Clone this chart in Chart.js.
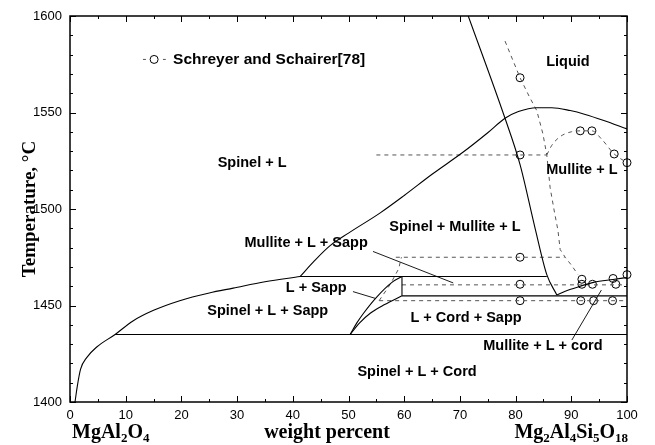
<!DOCTYPE html>
<html>
<head>
<meta charset="utf-8">
<script src="https://cdn.jsdelivr.net/npm/chart.js@4.4.1/dist/chart.umd.min.js"></script>
<style>
  html, body { margin: 0; padding: 0; background: #fff; }
  #wrap { width: 655px; height: 445px; }
</style>
</head>
<body>
<div id="wrap"><canvas id="phase"></canvas></div>
<script>
// ---- data: [wt% Mg2Al4Si5O18, temperature °C] ----
const spinelLiquidus = [[0.9,1400],[1.3,1408],[1.9,1417],[3,1423],[4.8,1428.5],[8.1,1435],[11.3,1442],[15,1447.5],[19.7,1452.5],[25,1456.5],[29.3,1459],[35,1462.3],[41.3,1465]];
const mainLiquidus = [[41.3,1465],[44,1473.5],[46.7,1481],[50,1487.5],[55.7,1498],[60,1507],[65,1518],[70.6,1529.5],[75,1539.5],[78.1,1547],[80.5,1550.5],[83.8,1552.5],[86.5,1552.5],[89.8,1551],[92.5,1549],[95.7,1546],[100,1541.5]];
const mulliteBoundary = [[71.5,1600],[78.1,1547],[80.8,1523],[83.5,1490],[85.6,1466],[87.4,1455.5]];
const cordBoundary = [[87.4,1455.5],[89.5,1458],[91.6,1460],[94,1462],[97.5,1463.5],[100,1464.5]];
const sappUpper = [[50.3,1435],[51.5,1441],[52.7,1446],[55.1,1454.5],[57.8,1462],[59.6,1465]];
const sappLower = [[50.3,1435],[52,1441],[53.9,1446],[56.5,1450.5],[59.6,1455]];
const sappEdge = [[59.6,1455],[59.6,1465]];
// isotherms: [temperature, from, to]
const isotherms = [[1465,41.3,85.6],[1455,59.6,100],[1435,8.1,100]];

// experimental boundaries (Schreyer and Schairer)
const expIsotherms = [[1528,55,85.6],[1475,58.5,88.8],[1460.7,59.6,100],[1452.5,55.5,100]];
const expMulliteLiquidus = [[78.1,1587],[80.8,1568],[82.5,1558],[83.8,1551],[84.9,1539],[85.6,1528],[86.2,1511],[87,1498],[87.6,1489],[88,1479],[88.9,1475],[90,1471],[91.2,1466]];
const expDome = [[85.6,1528],[86.5,1533],[88,1537.5],[90,1540],[91.6,1540.5],[93.7,1540.5],[95.5,1536],[97.7,1528.5],[100,1524]];
const expSappEdge = [[55.5,1452.5],[57.5,1461],[59,1469],[59.5,1475]];
const schreyerPoints = [[80.8,1568],[80.8,1528],[91.6,1540.5],[93.7,1540.5],[97.7,1528.5],[100,1524],
  [80.8,1475],[80.8,1461],[91.9,1463.6],[91.9,1461],[93.8,1461],[97.5,1464],[98,1461],[100,1466],
  [80.8,1452.5],[91.7,1452.5],[94,1452.5],[97.4,1452.5]];
const legendPoint = [[15.1,1577.5]];
const legendDash = [[13.1,1577.5],[17.2,1577.5]];

// leader lines from labels into narrow fields
const leaderLines = [
  [[54.4,1478],[68.8,1461.7]],
  [[50.8,1457.2],[54.8,1453.7]],
  [[90.1,1432.1],[95.4,1458]]
];

// phase field labels: [text, x, T]
const regionLabels = [
  ['Liquid', 89.4, 1576.2],
  ['Spinel + L', 32.7, 1523.8],
  ['Mullite + L', 91.9, 1520.2],
  ['Spinel + Mullite + L', 69.1, 1490.7],
  ['Mullite + L + Sapp', 42.4, 1482.4],
  ['L + Sapp', 44.2, 1459.1],
  ['Spinel + L + Sapp', 35.5, 1447.2],
  ['L + Cord + Sapp', 71.1, 1443.5],
  ['Mullite + L + cord', 84.9, 1429],
  ['Spinel + L + Cord', 62.3, 1415.5]
];
const legendText = ['Schreyer and Schairer[78]', 18.5, 1577.5];

const xTicks = { min: 0, max: 100, major: 10, minor: 5 };
const yTicks = { min: 1400, max: 1600, major: 50, minor: 10 };

const SANS = '"Liberation Sans", Arial, sans-serif';
const SERIF = '"Liberation Serif", "Times New Roman", serif';

const pts = arr => arr.map(([x, y]) => ({ x, y }));

function solid(arr, smooth = false) {
  return { data: pts(arr), showLine: true, borderColor: '#000', borderWidth: 1.1,
    pointRadius: 0, fill: false,
    cubicInterpolationMode: smooth ? 'monotone' : 'default', tension: 0 };
}
function dashed(arr, smooth = false) {
  return { ...solid(arr, smooth), borderColor: '#555', borderWidth: 1, borderDash: [4, 4] };
}

const datasets = [
  solid(spinelLiquidus, true),
  solid(mainLiquidus, true),
  solid(mulliteBoundary, true),
  solid(cordBoundary, true),
  solid(sappUpper, true),
  solid(sappLower, true),
  solid(sappEdge),
  ...isotherms.map(([t, a, b]) => solid([[a, t], [b, t]])),
  ...leaderLines.map(l => ({ ...solid(l), borderWidth: 0.9 })),
  ...expIsotherms.map(([t, a, b]) => dashed([[a, t], [b, t]])),
  dashed(expMulliteLiquidus),
  dashed(expDome, true),
  dashed(expSappEdge),
  { data: pts(legendDash), showLine: true, borderColor: '#555', borderWidth: 1,
    borderDash: [3, 17], pointRadius: 0 },
  { data: pts(schreyerPoints.concat(legendPoint)), showLine: false, pointRadius: 4,
    pointStyle: 'circle', borderColor: '#000', borderWidth: 1,
    backgroundColor: 'rgba(0,0,0,0)', clip: false }
];

// subscript-aware text for the formula labels
function drawFormula(ctx, parts, x, base, align) {
  const big = 'bold 20px ' + SERIF, small = 'bold 13px ' + SERIF;
  let w = 0;
  parts.forEach(([s, sub]) => { ctx.font = sub ? small : big; w += ctx.measureText(s).width; });
  let cx = align === 'right' ? x - w : align === 'center' ? x - w / 2 : x;
  ctx.textAlign = 'left';
  ctx.textBaseline = 'alphabetic';
  parts.forEach(([s, sub]) => {
    ctx.font = sub ? small : big;
    ctx.fillText(s, cx, sub ? base + 4 : base);
    cx += ctx.measureText(s).width;
  });
}

const decor = {
  id: 'decor',
  afterDatasetsDraw(chart) {
    const { ctx, chartArea: a, scales: { x, y } } = chart;
    ctx.save();
    ctx.fillStyle = '#000';
    ctx.strokeStyle = '#000';

    // frame
    ctx.lineWidth = 1.5;
    ctx.strokeRect(a.left, a.top, a.width, a.height);

    // inward ticks on all four sides
    ctx.lineWidth = 1;
    ctx.beginPath();
    for (let v = xTicks.min; v <= xTicks.max; v += xTicks.minor) {
      const px = Math.round(x.getPixelForValue(v)) + 0.5;
      const len = v % xTicks.major === 0 ? 6 : 3;
      ctx.moveTo(px, a.bottom); ctx.lineTo(px, a.bottom - len);
      ctx.moveTo(px, a.top); ctx.lineTo(px, a.top + len);
    }
    for (let v = yTicks.min; v <= yTicks.max; v += yTicks.minor) {
      const py = Math.round(y.getPixelForValue(v)) + 0.5;
      const len = (v - yTicks.min) % yTicks.major === 0 ? 6 : 3;
      ctx.moveTo(a.left, py); ctx.lineTo(a.left + len, py);
      ctx.moveTo(a.right, py); ctx.lineTo(a.right - len, py);
    }
    ctx.stroke();

    // phase field labels
    ctx.font = 'bold 14.5px ' + SANS;
    ctx.textAlign = 'center';
    ctx.textBaseline = 'middle';
    regionLabels.forEach(([t, vx, vy]) => ctx.fillText(t, x.getPixelForValue(vx), y.getPixelForValue(vy)));

    // legend entry
    ctx.font = 'bold 15.5px ' + SANS;
    ctx.textAlign = 'left';
    ctx.fillText(legendText[0], x.getPixelForValue(legendText[1]), y.getPixelForValue(legendText[2]));

    // y axis title
    ctx.save();
    ctx.translate(a.left - 35, (a.top + a.bottom) / 2);
    ctx.rotate(-Math.PI / 2);
    ctx.font = 'bold 19px ' + SERIF;
    ctx.textAlign = 'center';
    ctx.textBaseline = 'alphabetic';
    ctx.fillText('Temperature, \u00B0C', 0, 0);
    ctx.restore();

    // bottom labels
    const base = a.bottom + 36;
    drawFormula(ctx, [['MgAl', 0], ['2', 1], ['O', 0], ['4', 1]], a.left + 2, base, 'left');
    drawFormula(ctx, [['weight percent', 0]], 327, base, 'center');
    drawFormula(ctx, [['Mg', 0], ['2', 1], ['Al', 0], ['4', 1], ['Si', 0], ['5', 1], ['O', 0], ['18', 1]], a.right + 1, base, 'right');
    ctx.restore();
  }
};

new Chart(document.getElementById('phase'), {
  type: 'scatter',
  data: { datasets },
  options: {
    responsive: true,
    maintainAspectRatio: false,
    animation: false,
    events: [],
    layout: { padding: { top: 16, right: 28, left: 0, bottom: 0 } },
    plugins: { legend: { display: false }, tooltip: { enabled: false } },
    scales: {
      x: {
        type: 'linear', min: xTicks.min, max: xTicks.max,
        afterFit: s => { s.height = 43; },
        grid: { display: false, drawTicks: false },
        border: { display: false },
        ticks: { stepSize: xTicks.major, color: '#000', padding: 6, maxRotation: 0,
          font: { family: SANS, size: 13 }, callback: v => String(v) }
      },
      y: {
        type: 'linear', min: yTicks.min, max: yTicks.max,
        afterFit: s => { s.width = 70; },
        grid: { display: false, drawTicks: false },
        border: { display: false },
        ticks: { stepSize: yTicks.major, color: '#000', padding: 8,
          font: { family: SANS, size: 13 }, callback: v => String(v) }
      }
    }
  },
  plugins: [decor]
});
</script>
</body>
</html>
